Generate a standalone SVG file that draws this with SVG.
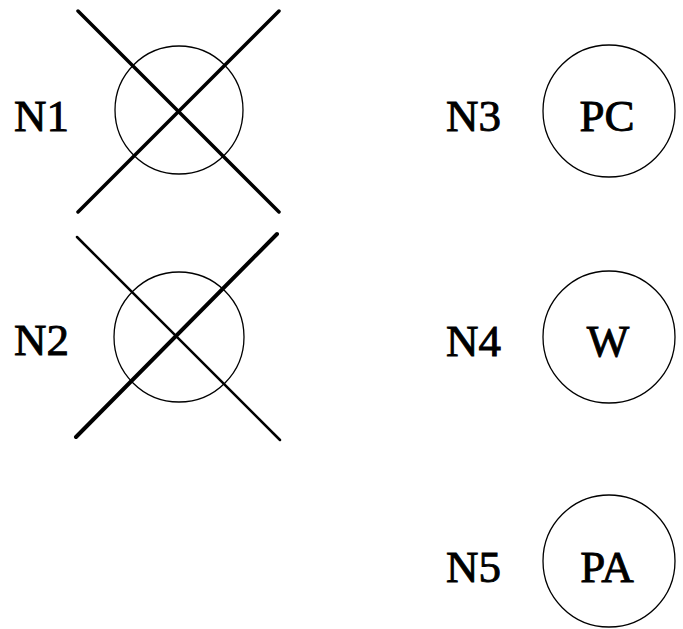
<svg xmlns="http://www.w3.org/2000/svg" width="683" height="629" viewBox="0 0 683 629">
  <style>
    .ring { fill: none; stroke: #000; stroke-width: 1.3; }
    .cross { stroke: #000; stroke-linecap: round; }
    .lbl { font-family: "Liberation Serif", "Times New Roman", serif; font-size: 45px; fill: #000; stroke: #000; stroke-width: 0.9; }
    .mid { text-anchor: middle; }
  </style>
  <rect width="683" height="629" fill="#fff"/>

  <g id="N1">
    <circle class="ring" cx="179" cy="110" r="64"/>
    <text class="lbl" x="14" y="131">N1</text>
  </g>
  <g id="N2">
    <circle class="ring" cx="179" cy="337" r="65"/>
    <text class="lbl" x="14" y="355">N2</text>
  </g>
  <g id="N3">
    <circle class="ring" cx="609" cy="111" r="66"/>
    <text class="lbl" x="446" y="131">N3</text>
    <text class="lbl mid" x="607" y="131">PC</text>
  </g>
  <g id="N4">
    <circle class="ring" cx="609" cy="337" r="66"/>
    <text class="lbl" x="446" y="356">N4</text>
    <text class="lbl mid" x="608" y="356">W</text>
  </g>
  <g id="N5">
    <circle class="ring" cx="609" cy="561" r="66"/>
    <text class="lbl" x="446" y="582">N5</text>
    <text class="lbl mid" x="607" y="582">PA</text>
  </g>

  <g id="connectors">
    <line class="cross" x1="78" y1="11" x2="279" y2="212" stroke-width="3.5"/>
    <line class="cross" x1="279" y1="11" x2="78" y2="212" stroke-width="3.5"/>
    <line class="cross" x1="77" y1="237" x2="280" y2="440" stroke-width="2.5"/>
    <line class="cross" x1="277" y1="234" x2="76" y2="437" stroke-width="4"/>
  </g>
</svg>
